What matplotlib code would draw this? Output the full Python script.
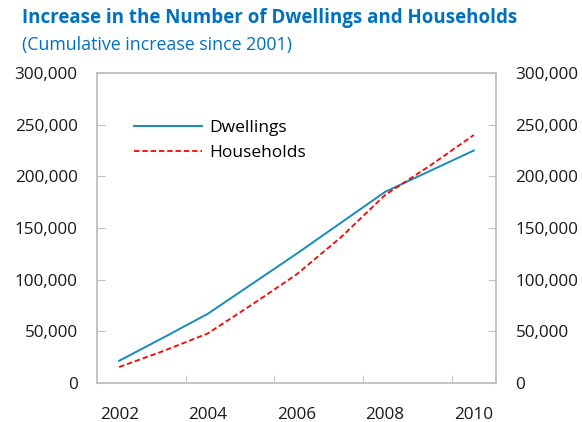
import matplotlib
matplotlib.use("Agg")
import matplotlib.pyplot as plt
from matplotlib.ticker import FuncFormatter, FixedLocator

# Cumulative increase since 2001
years = [2002, 2003, 2004, 2005, 2006, 2007, 2008, 2009, 2010]
dwellings = [21500, 44000, 67000, 96000, 125000, 155000, 185000, 205000, 225000]
households = [15500, 31000, 48000, 76000, 105000, 141000, 182000, 210000, 240000]

year_labels = [2002, 2004, 2006, 2008, 2010]
y_ticks = [0, 50000, 100000, 150000, 200000, 250000, 300000]

title = "Increase in the Number of Dwellings and Households"
subtitle = "(Cumulative increase since 2001)"

blue_text = "#0070C0"
grey = "#BFBFBF"

plt.rcParams["font.family"] = ["Open Sans", "DejaVu Sans"]

fig = plt.figure(figsize=(5.82, 4.22), dpi=100)
ax = fig.add_axes([97 / 582, 1 - 383 / 422, 399 / 582, 310 / 422])

ax.plot(years, dwellings, color="#168CB8", lw=1.4, label="Dwellings")
ax.plot(years, households, color="#FF0000", lw=1.3, ls=(0, (3, 1.6)), label="Households")

ax.set_xlim(years[0] - 0.5, years[-1] + 0.5)
ax.set_ylim(0, 300000)

ax.set_yticks(y_ticks)
ax.yaxis.set_major_formatter(FuncFormatter(lambda v, p: f"{int(v):,}"))
ax.set_xticks(year_labels)
ax.set_xticklabels([str(y) for y in year_labels])
# category boundary tick marks every second year
ax.xaxis.set_minor_locator(FixedLocator([y + 1.5 for y in year_labels[:-1]]))

ax.tick_params(axis="y", which="both", direction="in", length=6, color=grey,
               labelsize=12.3, labelcolor="#1a1a1a", left=True, right=True,
               labelleft=True, labelright=True, pad=14)
ax.tick_params(axis="x", which="major", length=0, labelsize=12.3,
               labelcolor="#1a1a1a", pad=17)
ax.tick_params(axis="x", which="minor", direction="in", length=6, color=grey)

for s in ax.spines.values():
    s.set_color(grey)
    s.set_linewidth(1.3)

leg = ax.legend(loc="upper left", bbox_to_anchor=(0.075, 0.87), frameon=False,
                fontsize=12.5, handlelength=3.9, handletextpad=0.45,
                labelspacing=0.5, borderaxespad=0)

fig.text(22 / 582, 1 - 18 / 422, title, fontsize=13.5, fontweight="bold",
         color=blue_text, va="center", ha="left")
fig.text(22 / 582, 1 - 45 / 422, subtitle, fontsize=12.8, color=blue_text,
         va="center", ha="left")

fig.savefig("out.png", dpi=100)
